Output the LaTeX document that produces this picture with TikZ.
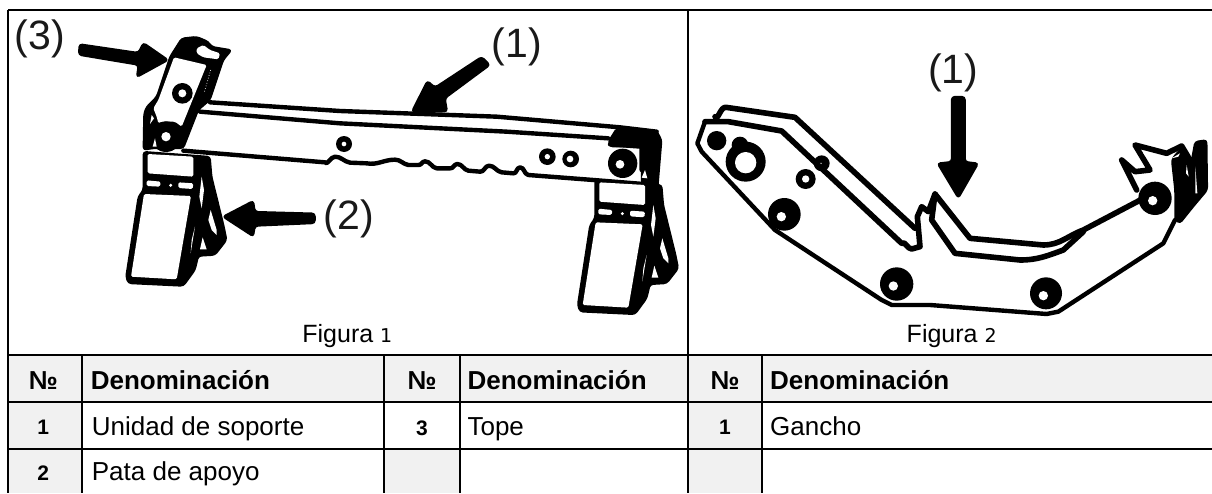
\documentclass[tikz,border=0pt]{standalone}
\usepackage{fontspec}
\setmainfont{Liberation Sans}
\newfontfamily\wide{DejaVu Sans}
\tikzset{
 sil/.style={fill=black,draw=black,line width=1.5pt,line join=round,rounded corners=3pt},
 hole/.style={fill=white,draw=none,rounded corners=1.5pt},
 ink/.style={draw=black,line join=round,line cap=round},
 thickink/.style={ink,line width=5.6pt},
 beamink/.style={ink,line width=4.4pt},
 midink/.style={ink,line width=4.4pt},
 gridline/.style={draw=black,line width=1.8pt},
 greycell/.style={fill=black!5.5,draw=none},
 biglabel/.style={inner sep=0pt,font=\fontsize{41}{41}\selectfont,text=black!90},
 figcap/.style={inner sep=0pt,anchor=base,font=\fontsize{25}{25}\selectfont},
 hdr/.style={inner sep=0pt,anchor=base west,font=\fontsize{26}{26}\selectfont\bfseries},
 celltext/.style={inner sep=0pt,anchor=base west,font=\fontsize{26}{26}\selectfont},
 numtext/.style={inner sep=0pt,anchor=base,font=\fontsize{21}{21}\selectfont\bfseries},
 numhead/.style={inner sep=0pt,anchor=base,font=\fontsize{26}{26}\selectfont\bfseries},
}
\newcommand{\footshape}{%
 \path[sil] (430,455)--(630,470)--(635,530)--(672,680)--(680,720)--(645,765)--(595,768)--(585,810)--(550,858)--(385,850)--(378,830)--(415,590)--(430,570)--cycle;
 \path[hole] (443,462)--(580,470)--(580,530)--(443,520)--cycle;
 \path[hole] (440,541)--(482,545)--(480,560)--(440,558)--cycle;
 \path[hole] (535,547)--(580,550)--(578,567)--(535,564)--cycle;
 \fill[white] (512,556) circle[radius=5];
 \path[hole] (432,582)--(573,588)--(530,838)--(393,830)--cycle;
 \fill[white] (605,530)--(612,570)--(605,625)--(598,590)--cycle;
 \fill[white] (632,630)--(650,690)--(650,705)--(635,690)--(625,660)--cycle;
 \fill[white] (585,680)--(572,760)--(575,720)--cycle;
 \fill[white] (608,712)--(620,748)--(600,748)--cycle;
}
\begin{document}
\begin{tikzpicture}[x=0.33333pt,y=-0.33333pt]
\useasboundingbox (0,0) rectangle (3636,1479);
\fill[white] (0,0) rectangle (3636,1479);
% table background
\path[greycell] (24,1065) rectangle (3636,1206);
\path[greycell] (24,1206) rectangle (246,1479);
\path[greycell] (1152,1347) rectangle (1380,1479);
\path[greycell] (2064,1206) rectangle (2286,1479);
% grid
\draw[gridline] (24,30) -- (3636,30);
\draw[gridline] (24,30) -- (24,1479);
\draw[gridline] (2064,30) -- (2064,1479);
\draw[gridline] (24,1065) -- (3636,1065);
\draw[gridline] (24,1206) -- (3636,1206);
\draw[gridline] (24,1347) -- (3636,1347);
\draw[gridline] (246,1065) -- (246,1479);
\draw[gridline] (1152,1065) -- (1152,1479);
\draw[gridline] (1380,1065) -- (1380,1479);
\draw[gridline] (2286,1065) -- (2286,1479);
% table text
\node[numhead] (n1) at (130,1168) {№};
\node[hdr] (h1) at (272,1168) {Denominación};
\node[numhead] (n2) at (1266,1168) {№};
\node[hdr] (h2) at (1402,1168) {Denominación};
\node[numhead] (n3) at (2175,1168) {№};
\node[hdr] (h3) at (2310,1168) {Denominación};
\node[numtext] (r1) at (130,1304) {1};
\node[celltext] (t1) at (275,1305) {Unidad de soporte};
\node[numtext] (r3) at (1266,1307) {3};
\node[celltext] (t3) at (1402,1305) {Tope};
\node[numtext] (r4) at (2175,1304) {1};
\node[celltext] (t4) at (2310,1305) {Gancho};
\node[numtext] (r2) at (130,1441) {2};
\node[celltext] (t2) at (275,1441) {Pata de apoyo};
\node[figcap] (f1) at (1042,1026) {Figura {\wide\fontsize{19}{19}\selectfont 1}};
\node[figcap] (f2) at (2855,1026) {Figura {\wide\fontsize{19}{19}\selectfont 2}};
\node[biglabel] (l3) at (120,118) {(3)};
\node[biglabel] (l1) at (1550,140) {(1)};
\node[biglabel] (l2) at (1047,658) {(2)};
\node[biglabel] (l1b) at (2860,218) {(1)};
% beam
\draw[beamink] (630,307) -- (1020,333) -- (1490,350) -- (1860,382) -- (1970,395);
\draw[beamink] (600,335) -- (1020,370) -- (1520,395) -- (1825,415);
\draw[midink] (550,452) -- (975,487) to[out=-70,in=180] (1005,470) to[out=0,in=170] (1050,488) -- (1100,490)
 to[out=-10,in=180] (1185,479) to[out=0,in=170] (1225,495) -- (1255,495)
 to[out=-10,in=180] (1275,484) to[out=0,in=170] (1310,505) -- (1350,505)
 to[out=-10,in=180] (1372,492) to[out=0,in=170] (1405,512) -- (1440,515)
 to[out=-10,in=180] (1467,497) to[out=0,in=170] (1505,517) -- (1540,520)
 to[out=-10,in=180] (1560,502) to[out=0,in=170] (1585,525) -- (1780,540) -- (1930,552);
\draw[midink] (1830,433) -- (1925,440) -- (1925,510);
\fill (1032,432) circle[radius=24]; \fill[white] (1032,432) circle[radius=7];
\fill (1642,470) circle[radius=25]; \fill[white] (1642,470) circle[radius=8];
\fill (1712,477) circle[radius=25]; \fill[white] (1710,477) circle[radius=10];
\fill (1868,490) circle[radius=44]; \fill[white] (1860,493) circle[radius=13];
% beam right end
\path[sil] (1825,425)--(1850,385)--(1970,393)--(1985,420)--(1970,600)--(1925,600)--(1925,440)--(1830,440)--cycle;
\fill[white] (1935,510)--(1942,535)--(1925,533)--cycle;
% feet
\begin{scope}\footshape\end{scope}
\begin{scope}[shift={(1355,85)}]\footshape\end{scope}
% stop plate
\path[sil] (510,170)--(545,115)--(590,110)--(625,125)--(635,140)--(695,150)--(670,180)--(630,300)--(595,330)--(550,445)--(460,445)--(430,450)--(432,340)--(440,320)--(470,290)--cycle;
\path[hole] (522,172)--(620,195)--(545,380)--(525,365)--(490,365)--(475,370)--(470,350)--(460,325)--(475,300)--cycle;
\fill (547,280) circle[radius=31]; \fill[white] (547,280) circle[radius=12];
\fill (498,410) circle[radius=46]; \fill[white] (498,410) circle[radius=14];
\path[hole] (590,145)--(610,135)--(630,150)--(660,160)--(655,178)--(610,172)--(590,160)--cycle;
\fill[white] (455,345)--(462,355)--(450,372)--cycle;
\fill[white] (465,415)--(470,440)--(458,440)--cycle;
\draw[white,line width=.7pt,dotted] (632,210) -- (612,280);
% arrows
\path[sil] (238,132)--(415,158)--(430,128)--(505,180)--(410,232)--(415,195)--(236,165)--cycle;
\path[sil] (668,650)--(760,602)--(765,635)--(945,640)--(945,670)--(765,678)--(760,710)--cycle;
\path[sil] (1235,335)--(1282,242)--(1305,262)--(1445,170)--(1470,195)--(1335,295)--(1342,335)--cycle;
\path[sil] (2855,290)--(2895,290)--(2895,485)--(2935,490)--(2875,595)--(2812,490)--(2855,485)--cycle;
% hook outlines
\draw[thickink] (2145,350) to[out=-60,in=170] (2178,322) -- (2385,352) -- (2745,685);
\draw[thickink] (2115,365) -- (2185,365) -- (2345,393) -- (2705,730) to[out=40,in=180] (2735,747) -- (2760,740) -- (2752,650) -- (2765,620) -- (2785,635) -- (2805,582) -- (2910,715) -- (3130,735) to[out=0,in=200] (3250,690) -- (3440,590);
\draw[thickink] (2805,582) -- (2795,660) -- (2865,760) -- (3060,780) to[out=0,in=200] (3190,750) -- (3250,695);
\draw[midink] (2115,365) -- (2092,430) -- (2105,455) -- (2325,690) -- (2645,900) -- (2675,915) -- (2790,915) -- (3140,942) -- (3175,935) -- (3490,730) -- (3525,660);
\fill (2150,422) circle[radius=29];
\fill (2220,435) circle[radius=25]; \fill[white] (2215,447) circle[radius=3];
\fill (2237,485) circle[radius=60]; \fill[white] (2237,488) circle[radius=32];
\fill (2417,537) circle[radius=30]; \fill[white] (2417,537) circle[radius=11];
\fill (2465,490) circle[radius=24]; \fill[white] (2463,490) circle[radius=2];
\fill (2353,643) circle[radius=49]; \fill[white] (2344,650) circle[radius=14];
\fill (2690,852) circle[radius=50]; \fill[white] (2680,858) circle[radius=14];
\fill (3138,880) circle[radius=48]; \fill[white] (3130,887) circle[radius=14];
\fill (3465,595) circle[radius=50]; \fill[white] (3458,602) circle[radius=14];
% hook tip
\draw[thickink] (3410,570) -- (3365,480) -- (3405,515) -- (3450,510) -- (3405,435) -- (3500,460) -- (3545,438) -- (3570,480);
\path[sil] (3525,465)--(3545,445)--(3575,480)--(3585,425)--(3620,420)--(3622,570)--(3580,620)--(3540,670)--(3525,660)--(3525,570)--(3515,480)--cycle;
\fill[white] (3430,460)--(3480,470)--(3455,490)--cycle;
\fill[white] (3515,475)--(3540,460)--(3535,470)--cycle;
\fill[white] (3560,495)--(3566,530)--(3558,520)--cycle;
\fill[white] (3586,500)--(3592,580)--(3586,580)--cycle;
\end{tikzpicture}
\end{document}
